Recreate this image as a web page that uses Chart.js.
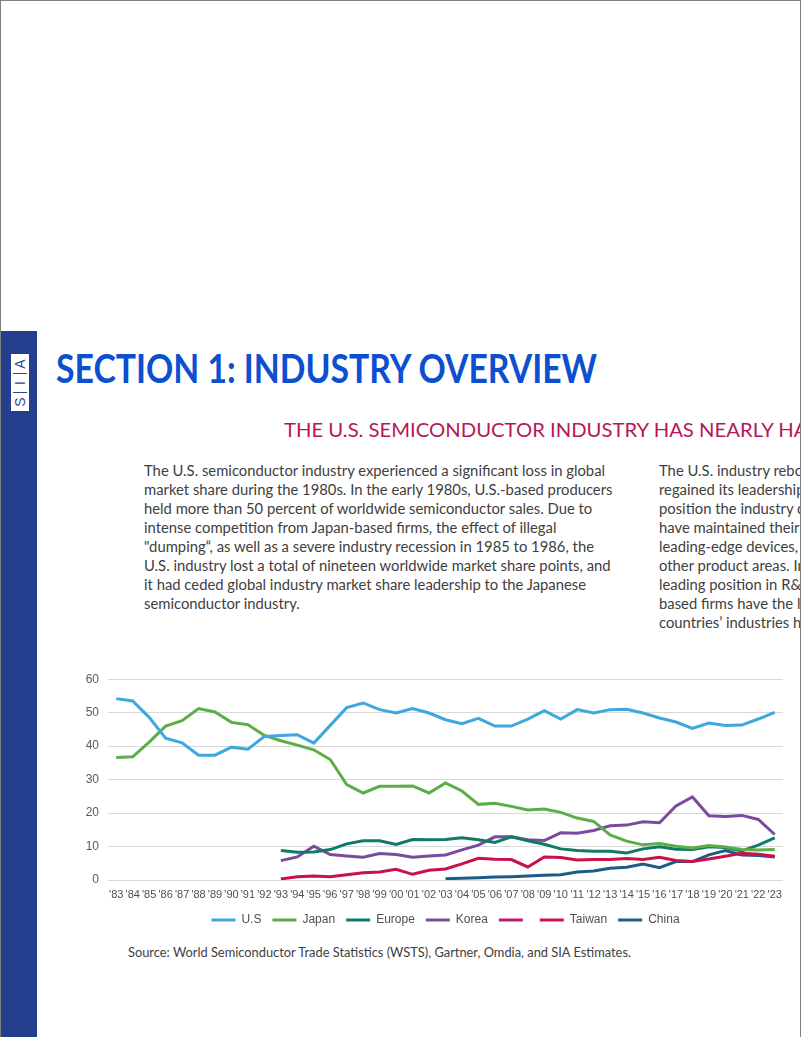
<!DOCTYPE html>
<html><head><meta charset="utf-8">
<script src="https://cdn.jsdelivr.net/npm/chart.js@4.4.1/dist/chart.umd.min.js"></script>
<style>
html,body{margin:0;padding:0;background:#fff;}
body{width:802px;height:1037px;overflow:hidden;position:relative;font-family:Lato,"Open Sans",sans-serif;}
.bl{position:absolute;background:#808080;}
#clip{position:absolute;left:0;top:0;width:800px;height:1037px;overflow:hidden;}
#side{position:absolute;left:1px;top:331px;width:36px;height:720px;background:#243f8e;}
#sia{position:absolute;left:11px;top:354px;width:18px;height:57px;background:#fff;}
.cell{position:absolute;left:0;width:18px;height:19px;display:flex;align-items:center;justify-content:center;}
.cell span{display:inline-block;transform:rotate(-90deg);color:#2b4796;font:14px "Liberation Sans",Arial,sans-serif;}
.sep{position:absolute;left:2px;width:14px;height:1px;background:#2b4796;}
.fitx{position:absolute;white-space:nowrap;transform-origin:0 0;}
#title{left:56px;top:345px;font-weight:700;font-size:40px;line-height:46px;color:#0c4fd0;}
#sub{left:284px;top:418px;font-size:19.5px;line-height:24px;color:#b5175a;}
.para{font-size:14.5px;line-height:19px;color:#404040;}
#p1{left:144px;top:461px;}
#p2{left:659px;top:461px;}
#src{left:128px;top:943px;font-size:13.5px;line-height:18px;color:#404040;}
#wrap{position:absolute;left:60px;top:663px;width:730px;height:273px;}
</style></head>
<body>
<div id="clip">
  <div id="side"></div>
  <div id="sia">
    <div class="cell" style="top:0"><span>A</span></div>
    <div class="sep" style="top:19px"></div>
    <div class="cell" style="top:19px"><span>I</span></div>
    <div class="sep" style="top:38px"></div>
    <div class="cell" style="top:38px"><span>S</span></div>
  </div>
  <div id="title" class="fitx"><span id="titleTxt">SECTION 1: INDUSTRY OVERVIEW</span></div>
  <div id="sub" class="fitx"><span id="subKey">THE U.S. SEMICONDUCTOR INDUSTRY HAS NEARLY</span> HALF OF GLOBAL MARKET SHARE</div>
  <div id="p1" class="fitx para">
    <div><span id="p1l1">The U.S. semiconductor industry experienced a significant loss in global</span></div>
    <div>market share during the 1980s. In the early 1980s, U.S.-based producers</div>
    <div>held more than 50 percent of worldwide semiconductor sales. Due to</div>
    <div>intense competition from Japan-based firms, the effect of illegal</div>
    <div>"dumping“, as well as a severe industry recession in 1985 to 1986, the</div>
    <div>U.S. industry lost a total of nineteen worldwide market share points, and</div>
    <div>it had ceded global industry market share leadership to the Japanese</div>
    <div>semiconductor industry.</div>
  </div>
  <div id="p2" class="fitx para">
    <div>The U.S. industry rebounded</div>
    <div>regained its leadership</div>
    <div>position the industry continues</div>
    <div>have maintained their</div>
    <div>leading-edge devices, and</div>
    <div>other product areas. In</div>
    <div>leading position in R&amp;D</div>
    <div>based firms have the largest</div>
    <div>countries’ industries have</div>
  </div>
  <div id="src" class="fitx"><span id="srcTxt">Source: World Semiconductor Trade Statistics (WSTS), Gartner, Omdia, and SIA Estimates.</span></div>
  <div id="wrap"><canvas id="c" width="730" height="273"></canvas></div>
</div>
<div class="bl" style="left:0;top:0;width:801px;height:1px"></div>
<div class="bl" style="left:0;top:0;width:1px;height:1037px"></div>
<div class="bl" style="left:800px;top:0;width:1px;height:1037px"></div>
<script>
const years = ["'83","'84","'85","'86","'87","'88","'89","'90","'91","'92","'93","'94","'95","'96","'97","'98","'99","'00","'01","'02","'03","'04","'05","'06","'07","'08","'09","'10","'11","'12","'13","'14","'15","'16","'17","'18","'19","'20","'21","'22","'23"];
const us = [54.2,53.5,48.6,42.4,41.0,37.3,37.3,39.7,39.1,42.9,43.2,43.4,40.9,46.2,51.5,52.9,50.9,49.9,51.2,49.9,47.9,46.7,48.3,46.0,46.0,48.1,50.6,48.1,50.9,49.9,50.9,51.0,49.9,48.4,47.2,45.3,46.9,46.2,46.3,48.1,50.1];
const japan = [36.6,36.8,41.2,46.0,47.6,51.2,50.2,47.1,46.4,43.2,41.6,40.3,38.9,36.0,28.5,26.0,28.0,28.0,28.1,26.0,29.0,26.6,22.6,22.9,22.0,20.9,21.2,20.2,18.5,17.5,13.5,11.6,10.5,10.9,10.1,9.6,10.3,9.9,9.1,9.0,9.1];
const europe = [null,null,null,null,null,null,null,null,null,null,8.8,8.3,8.4,9.1,10.8,11.7,11.7,10.6,12.1,12.0,12.1,12.6,12.0,11.2,12.9,11.7,10.7,9.3,8.8,8.6,8.6,8.1,9.3,9.9,9.2,9.1,9.9,9.7,8.7,10.4,12.6];
const korea = [null,null,null,null,null,null,null,null,null,null,5.8,6.9,10.1,7.6,7.2,6.8,7.9,7.6,6.8,7.2,7.5,9.0,10.4,12.9,12.9,12.0,11.8,14.1,14.0,14.8,16.2,16.4,17.4,17.1,22.1,24.8,19.2,19.0,19.3,18.1,13.6];
const blank = [];
const taiwan = [null,null,null,null,null,null,null,null,null,null,0.3,1.0,1.2,1.0,1.6,2.2,2.4,3.2,1.7,2.9,3.3,4.8,6.5,6.2,6.1,3.9,6.9,6.7,6.0,6.1,6.1,6.4,6.1,6.8,5.8,5.5,6.3,7.1,8.0,7.7,7.1];
const china = [null,null,null,null,null,null,null,null,null,null,null,null,null,null,null,null,null,null,null,null,0.4,0.5,0.7,0.9,1.0,1.2,1.4,1.6,2.4,2.7,3.5,3.8,4.8,3.7,5.5,5.5,7.5,8.8,7.5,7.3,6.9];
const yTicks = {min:0, max:60, step:10};

function fit(el, key, target){
  const w = key.getBoundingClientRect().width;
  const s = target / w;
  el.style.transform = 'scaleX(' + s + ')';
  return s;
}
const s1 = fit(document.getElementById('p1'), document.getElementById('p1l1'), 461);
document.getElementById('p2').style.transform = 'scaleX(' + s1 + ')';
fit(document.getElementById('title'), document.getElementById('titleTxt'), 541);
fit(document.getElementById('sub'), document.getElementById('subKey'), 489);
fit(document.getElementById('src'), document.getElementById('srcTxt'), 503);

function ds(label, data, color){
  return {label, data, borderColor:color, backgroundColor:color, borderWidth:3, pointRadius:0, tension:0, spanGaps:false, fill:false};
}
const fam = '"Liberation Sans", Arial, sans-serif';
new Chart(document.getElementById('c'), {
  type:'line',
  data:{labels:years, datasets:[
    ds('U.S', us, '#3ea7de'),
    ds('Japan', japan, '#5bae47'),
    ds('Europe', europe, '#0f7a66'),
    ds('Korea', korea, '#7a4b9c'),
    ds('', blank, '#c1187a'),
    ds('Taiwan', taiwan, '#c8124a'),
    ds('China', china, '#1e5c88')
  ]},
  options:{
    responsive:false, animation:false, devicePixelRatio:1,
    layout:{padding:{left:0,right:7,top:10,bottom:0}},
    plugins:{
      tooltip:{enabled:false},
      legend:{position:'bottom', fullSize:false, labels:{
        boxWidth:24, boxHeight:3, padding:11, color:'#505050',
        font:{family:fam, size:12},
        generateLabels(chart){
          return Chart.defaults.plugins.legend.labels.generateLabels(chart).map(it=>{
            const d = chart.data.datasets[it.datasetIndex];
            it.fillStyle = d.borderColor; it.strokeStyle = d.borderColor; it.lineWidth = 0; return it;
          });
        }
      }}
    },
    scales:{
      x:{offset:true, grid:{display:false, drawTicks:false}, border:{display:false},
         ticks:{autoSkip:false, maxRotation:0, minRotation:0, padding:8, color:'#505050',
                font:{family:fam, size:11}},
         afterFit(s){ s.height = 23; }},
      y:{min:yTicks.min, max:yTicks.max, border:{display:false},
         grid:{color:'#d9d9d9', drawTicks:false, lineWidth:1},
         ticks:{stepSize:yTicks.step, padding:9, color:'#595959',
                font:{family:fam, size:12}},
         afterFit(s){ s.width = 48; }}
    }
  }
});
</script>
</body></html>
